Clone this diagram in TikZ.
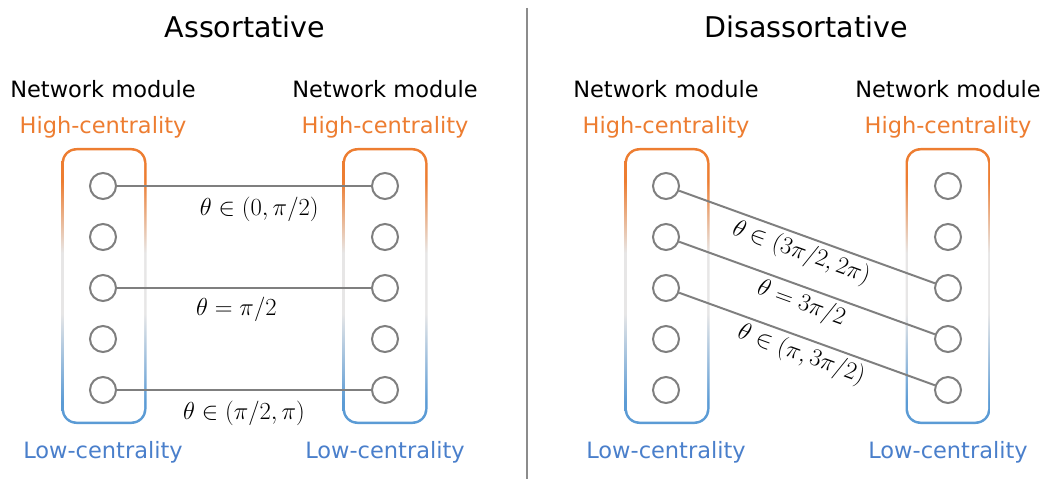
\documentclass[tikz,border=0pt]{standalone}
\usepackage{fix-cm}
\usepackage{fontspec}
\setmainfont{DejaVu Sans}
\usepackage{tikz}
\definecolor{hiorange}{HTML}{ED7D31}
\definecolor{lowblue}{HTML}{4A7FCB}
\definecolor{boxblue}{HTML}{5B9BD5}
\definecolor{linkgray}{HTML}{7F7F7F}
\definecolor{midgray}{HTML}{E7E6E6}
\pgfdeclareverticalshading{modfade}{100bp}{color(0bp)=(boxblue); color(29bp)=(boxblue);
 color(45bp)=(midgray); color(56bp)=(midgray); color(69bp)=(hiorange); color(100bp)=(hiorange)}

\begin{document}
\begin{tikzpicture}[x=0.025cm,y=-0.025cm]
 \tikzstyle{vertex}=[circle,draw=linkgray,line width=1.4pt,minimum size=0.65cm,inner sep=0pt,fill=white]
 \tikzstyle{link}=[draw=linkgray,line width=1.4pt]
 \tikzstyle{heading}=[font=\fontsize{20.3}{23}\selectfont]
 \tikzstyle{modname}=[font=\fontsize{16}{19}\selectfont]
 \tikzstyle{high}=[modname,text=hiorange]
 \tikzstyle{low}=[modname,text=lowblue]
 \tikzstyle{angle}=[font=\fontsize{17.5}{20}\selectfont,inner sep=1pt]
 \useasboundingbox (0,0) rectangle (1048,479);
 % divider
 \draw[linkgray!90,line width=1.5pt] (527,8) -- (527,479);
 % module boxes with gradient outline
 \foreach \x in {104,385,667,948}{
  \shade[rounded corners=0.375cm,shading=modfade]
   (\x-42.5,148) rectangle (\x+42.5,424);
  \fill[white,rounded corners=0.31cm] (\x-40,150.5) rectangle (\x+40,421.5);
 }
 % titles and labels
 \node[heading] (T1) at (245,27) {Assortative};
 \node[heading] (T2) at (806,27) {Disassortative};
 \foreach \m/\x in {a/103,b/385,c/666,d/948}{
  \node[modname] (N\m) at (\x,89) {Network module};
  \node[high] (H\m) at (\x,127) {High-centrality};
  \node[low] (L\m) at (\x,452) {Low-centrality};
 }
 % nodes
 \foreach \m/\x in {a/103,b/385,c/666,d/948}
  \foreach \r/\y in {1/186,2/237,3/288,4/339,5/390}
   \node[vertex] (\m\r) at (\x,\y) {};
 % assortative links
 \draw[link] (a1) -- node[angle,below=6pt,pos=0.56] {$\theta\in(0,\pi/2)$} (b1);
 \draw[link] (a3) -- node[angle,below=5pt,pos=0.47] {$\theta=\pi/2$} (b3);
 \draw[link] (a5) -- node[angle,below=6pt,pos=0.5] {$\theta\in(\pi/2,\pi)$} (b5);
 % disassortative links
 \draw[link] (c1) -- node[angle,below=1.5pt,sloped] {$\theta\in(3\pi/2,2\pi)$} (d3);
 \draw[link] (c2) -- node[angle,below=1.5pt,sloped] {$\theta=3\pi/2$} (d4);
 \draw[link] (c3) -- node[angle,below=1.5pt,sloped] {$\theta\in(\pi,3\pi/2)$} (d5);
\end{tikzpicture}
\end{document}
